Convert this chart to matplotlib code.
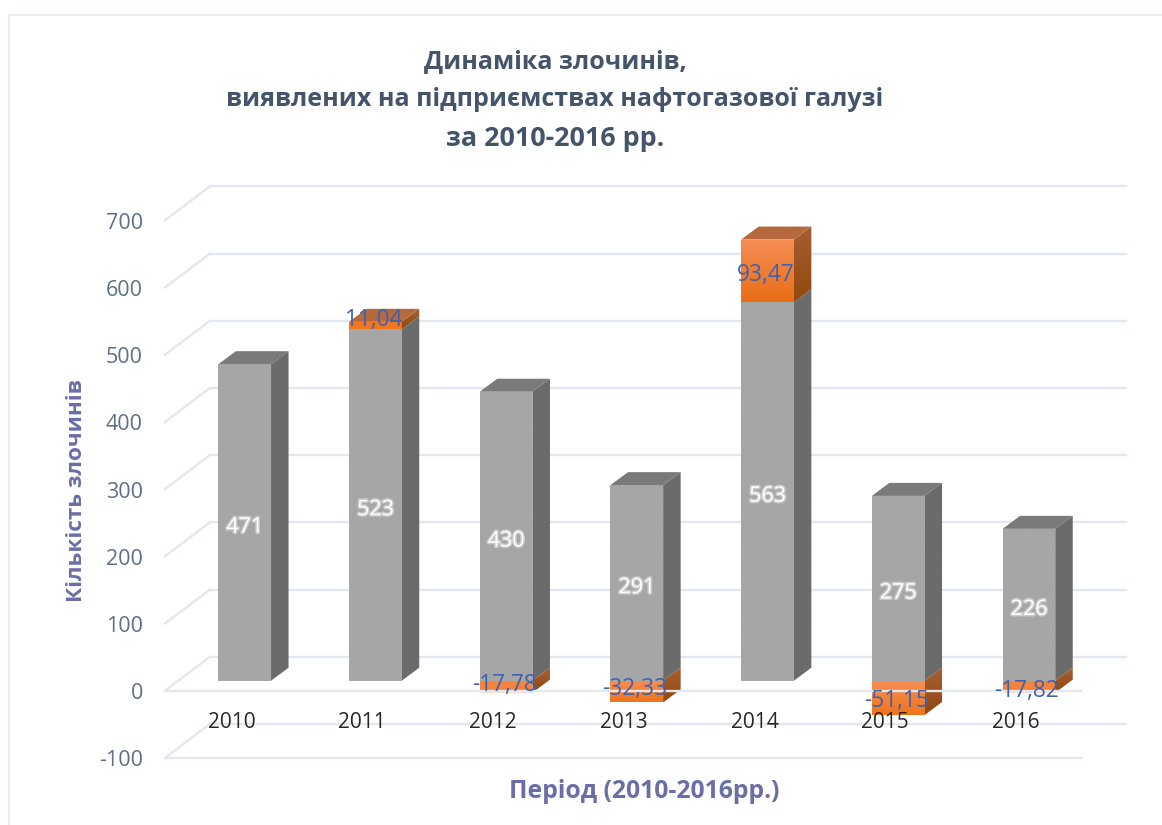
import numpy as np
import matplotlib
matplotlib.use('Agg')
import matplotlib.pyplot as plt
import matplotlib.patheffects as pe
from matplotlib.colors import to_rgb
from matplotlib.patches import Polygon

plt.rcParams['font.family'] = ['Open Sans', 'DejaVu Sans']

years = ['2010', '2011', '2012', '2013', '2014', '2015', '2016']
crimes = [471, 523, 430, 291, 563, 275, 226]
change = [None, 11.04, -17.78, -32.33, 93.47, -51.15, -17.82]
change_text = ['', '11,04', '-17,78', '-32,33', '93,47', '-51,15', '-17,82']
y_ticks = [-100, 0, 100, 200, 300, 400, 500, 600, 700]

# layout, pixels of the 1162x825 picture
W, H = 1162, 825
px_per_cat = 130.7
px_per_val = 0.672
x0_px = 244.7
y0_px = 680.7

bar_w = 52.7 / px_per_cat
bar_dx = 17.5 / px_per_cat
bar_dy = 13 / px_per_val
plane_off = -10 / px_per_val
wall_dx = 45 / px_per_cat
wall_dy = 34 / px_per_val
grid_left = (165 - x0_px) / px_per_cat
grid_right = (1081 - x0_px) / px_per_cat

label_shift = [0, 6, 2, 3, -4, -3, -4]

grid_col = '#E3E7EF'
tick_col = '#5F6F86'
title_col = '#44546A'
axis_col = '#6A6EA6'
blue_col = '#3F62AC'


def fx(px):
    return (px - x0_px) / px_per_cat


def fy(py):
    return (y0_px - py) / px_per_val


fig = plt.figure(figsize=(W / 100, H / 100), dpi=100)
ax = fig.add_axes([0, 0, 1, 1])
ax.set_xlim(fx(0), fx(W))
ax.set_ylim(fy(H), fy(0))
ax.axis('off')


def grad_poly(pts, top, bottom, z):
    pts = np.array(pts)
    g = np.linspace(to_rgb(top), to_rgb(bottom), 64).reshape(64, 1, 3)
    ext = [pts[:, 0].min(), pts[:, 0].max(), pts[:, 1].min(), pts[:, 1].max()]
    im = ax.imshow(g, extent=ext, origin='upper', aspect='auto', zorder=z, interpolation='bilinear')
    p = Polygon(pts, closed=True, transform=ax.transData, fc='none', ec='none')
    ax.add_patch(p)
    im.set_clip_path(p)


def box(i, v0, v1, front, side, top=None, z=3):
    l = i - bar_w / 2
    r = i + bar_w / 2
    hi, lo = max(v0, v1), min(v0, v1)
    grad_poly([(r, hi), (r + bar_dx, hi + bar_dy), (r + bar_dx, lo + bar_dy), (r, lo)], side[0], side[1], z)
    grad_poly([(l, hi), (r, hi), (r, lo), (l, lo)], front[0], front[1], z + 0.1)
    if top:
        ax.add_patch(Polygon([(l, hi), (r, hi), (r + bar_dx, hi + bar_dy), (l + bar_dx, hi + bar_dy)],
                             fc=top, ec='none', zorder=z))


# walls and floor
for t in y_ticks:
    y_f = t + plane_off
    y_b = y_f + wall_dy
    ax.plot([grid_left + wall_dx, grid_right + wall_dx], [y_b, y_b], color=grid_col, lw=1.7, zorder=1)
    ax.plot([grid_left, grid_left + wall_dx], [y_f, y_b], color=grid_col, lw=1.7, zorder=1)
    ax.text(fx(143), y_f - 3 / px_per_val, str(t), ha='right', va='center', fontsize=15.5, color=tick_col, zorder=5)
for t in [-100, 0]:
    ax.plot([grid_left, grid_right], [t + plane_off] * 2, color=grid_col, lw=1.7,
            zorder=4 if t == 0 else 1)

gray = (('#A6A6A6', '#A6A6A6'), ('#6B6B6B', '#6B6B6B'))
for i, v in enumerate(crimes):
    d = change[i]
    if d is not None and d > 0:
        box(i, v, v + d, ('#F68E54', '#E96E17') if d > 50 else ('#F0771F', '#F0771F'),
            ('#A65F33', '#93480F'), top='#B5693C', z=3)
        box(i, 0, v, *gray, z=3)
    else:
        box(i, 0, v, *gray, top='#7A7A7A', z=3)
    if d is not None and d < 0:
        box(i, 0, d, ('#F68E54', '#EF741C') if d < -25 else ('#F5853F', '#F5803A'),
            ('#A65F33', '#93480F'), z=3)
        if d > -25:
            # lower edge washes out below the floor line on the small bars
            ax.fill_between([i - bar_w / 2, i + bar_w / 2], plane_off, d, color='#F8DCCB', lw=0, zorder=3.3)

for i, v in enumerate(crimes):
    ax.text(i, v / 2 - 7, str(v), ha='center', va='center', fontsize=15.5, color='white', zorder=6,
            path_effects=[pe.withStroke(linewidth=2.2, foreground='#C9C9C9')])
    ax.text(i - 0.1, fy(723), years[i], ha='center', va='center', fontsize=15, color='#262626', zorder=8)
    d = change[i]
    if d is None:
        continue
    base = v if d > 0 else 0
    ax.text(i - 2 / px_per_cat, base + d / 2 + label_shift[i] / px_per_val, change_text[i], ha='center',
            va='center', fontsize=16.3, color=blue_col, zorder=7)

for line, py, fs in zip(['Динаміка злочинів,', 'виявлених на підприємствах нафтогазової галузі', 'за 2010-2016 рр.'],
                        [62, 99, 139], [18, 18, 19.4]):
    ax.text(fx(555), fy(py), line, ha='center', va='center', fontsize=fs, fontweight='bold', color=title_col)

ax.text(fx(644), fy(792), 'Період (2010-2016рр.)', ha='center', va='center', fontsize=17.8,
        fontweight='bold', color=axis_col)
ax.text(fx(76), fy(490), 'Кількість злочинів', rotation=90, ha='center', va='center', fontsize=16.2,
        fontweight='bold', color=axis_col)

# faint frame of the chart area
ax.plot([fx(9), fx(9)], [fy(825), fy(14.5)], color=grid_col, lw=1.1)
ax.plot([fx(9), fx(W)], [fy(14.5), fy(14.5)], color=grid_col, lw=1.1)

ax.set_xlim(fx(0), fx(W))
ax.set_ylim(fy(H), fy(0))
fig.savefig('out.png', dpi=100, facecolor='white')
